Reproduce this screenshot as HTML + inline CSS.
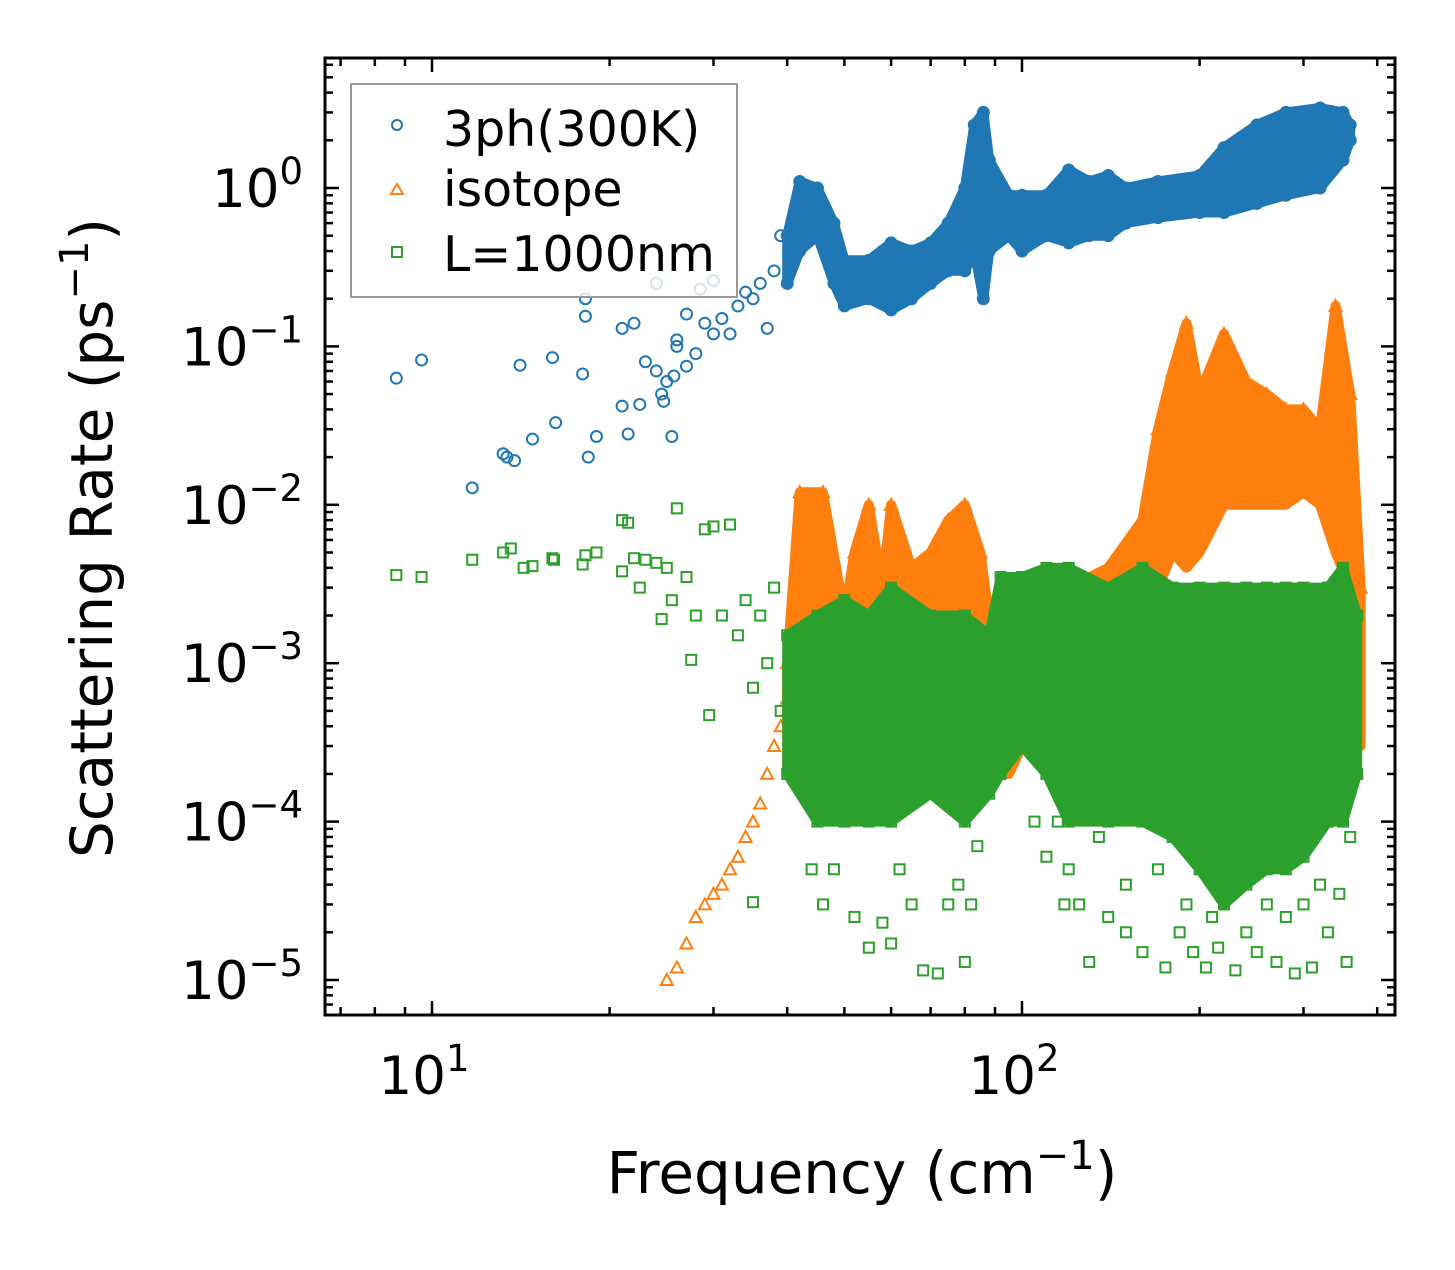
<!DOCTYPE html>
<html><head><meta charset="utf-8"><style>
body{margin:0;background:#fff;}
svg text{font-family:"DejaVu Sans","Liberation Sans",sans-serif;fill:#000;}
</style></head><body>
<svg width="1455" height="1265" viewBox="0 0 1455 1265" xmlns="http://www.w3.org/2000/svg">
<g id="marks"></g>
<g id="axes"></g>
<text x="862" y="1193" font-size="58" text-anchor="middle">Frequency (cm<tspan dy="-24" font-size="40">−1</tspan><tspan dy="24">)</tspan></text>
<text transform="translate(112,538) rotate(-90)" font-size="58" text-anchor="middle">Scattering Rate (ps<tspan dy="-24" font-size="40">−1</tspan><tspan dy="24">)</tspan></text>
<g>
<rect x="351" y="84" width="386" height="213" fill="#fff" fill-opacity="0.8" stroke="#999" stroke-width="2"/>
<circle cx="397" cy="125" r="5" fill="none" stroke="#1f77b4" stroke-width="2"/>
<text x="443" y="146" font-size="49">3ph(300K)</text>
<polygon points="397,184 403,194 391,194" fill="none" stroke="#ff7f0e" stroke-width="2"/>
<text x="443" y="206" font-size="49">isotope</text>
<rect x="392" y="247" width="10" height="10" fill="none" stroke="#2ca02c" stroke-width="2"/>
<text x="443" y="271" font-size="49">L=1000nm</text>
</g>
</svg>
<script>
// ---- data ----
var blueFreq=[8.7,9.6,11.7,13.2,13.4,13.8,14.1,14.8,16,16.2,18,18.2,18.2,18.4,19,21,21,21.5,22,22.5,23,24,24.5,25,25.5,26,27,28,28.5,30,31,32,33,34,35,36,37,38,39,24,26,29,30,27,25.7,24.7];
var blueRate=[0.063,0.082,0.0128,0.021,0.02,0.019,0.076,0.026,0.085,0.033,0.067,0.2,0.155,0.02,0.027,0.13,0.042,0.028,0.14,0.043,0.08,0.07,0.05,0.06,0.027,0.1,0.16,0.09,0.23,0.26,0.15,0.12,0.18,0.22,0.2,0.25,0.13,0.3,0.5,0.25,0.11,0.14,0.12,0.075,0.065,0.045];
var blueBandFreq=[40,42,45,48,50,55,60,65,70,75,80,83,86,88,95,100,110,120,130,140,150,170,200,220,250,280,320,350,360];
var blueBandLo=[0.25,0.4,0.5,0.25,0.18,0.2,0.17,0.2,0.25,0.3,0.3,0.4,0.2,0.4,0.5,0.4,0.5,0.45,0.5,0.5,0.6,0.65,0.7,0.7,0.8,0.9,1.0,1.5,2.0];
var blueBandHi=[0.5,1.1,1.0,0.6,0.35,0.35,0.45,0.4,0.45,0.6,1.0,2.5,3.0,1.5,0.9,0.9,0.9,1.3,1.1,1.2,1.0,1.1,1.2,1.8,2.5,3.0,3.2,3.0,2.5];

var orangeFreq=[25,26,27,28,29,30,31,32,33,34,35,36,37,38,39,40];
var orangeRate=[1e-5,1.2e-5,1.7e-5,2.5e-5,3e-5,3.5e-5,4e-5,5e-5,6e-5,8e-5,1e-4,1.3e-4,2e-4,3e-4,4e-4,6e-4];
var orangeBandFreq=[40,42,46,50,52,55,58,60,65,70,75,80,85,90,95,100,110,120,140,160,170,180,190,200,220,240,260,280,300,320,340,360,375];
var orangeBandLo=[2e-4,4e-4,5e-4,5e-4,3e-4,1e-3,5e-4,5e-4,4e-4,3e-4,3e-4,2e-4,2e-4,2e-4,2e-4,3e-4,3e-4,3e-4,5e-4,1e-3,3e-3,5e-3,4e-3,5e-3,1e-2,1e-2,1e-2,1e-2,1.2e-2,1e-2,5e-3,3e-3,3e-4];
var orangeBandHi=[1e-3,1.2e-2,1.2e-2,2e-3,5e-3,1e-2,3e-3,1e-2,4e-3,5e-3,8e-3,1e-2,5e-3,1e-3,1.5e-3,3e-3,2e-3,3e-3,4e-3,8e-3,3e-2,7e-2,1.4e-1,5e-2,1.2e-1,6e-2,5e-2,4e-2,4e-2,3e-2,1.8e-1,5e-2,3e-3];

var greenFreq=[8.7,9.6,11.7,13.2,13.6,14.3,14.8,16,16.1,18,18.2,19,21,21,21.5,22,22.5,23,24,24.5,25,25.5,26,27,27.5,28,29,29.5,30,31,32,33,34,35,35,36,37,38,39,
44,46,48,52,55,58,60,62,65,68,72,75,78,80,82,84,115,118,125,130,140,150,160,175,185,195,205,215,230,250,270,290,310,330,345,355,360,105,110,120,135,150,170,190,210,240,260,280,300,320];
var greenRate=[3.6e-3,3.5e-3,4.5e-3,5e-3,5.3e-3,4e-3,4.1e-3,4.6e-3,4.5e-3,4.2e-3,4.8e-3,5e-3,8e-3,3.8e-3,7.7e-3,4.6e-3,3e-3,4.5e-3,4.3e-3,1.9e-3,4e-3,2.5e-3,9.5e-3,3.5e-3,1.05e-3,2e-3,7e-3,4.7e-4,7.3e-3,2e-3,7.5e-3,1.5e-3,2.5e-3,3.1e-5,7e-4,2e-3,1e-3,3e-3,5e-4,
5e-5,3e-5,5e-5,2.5e-5,1.6e-5,2.3e-5,1.7e-5,5e-5,3e-5,1.15e-5,1.1e-5,3e-5,4e-5,1.3e-5,3e-5,7e-5,1e-4,3e-5,3e-5,1.3e-5,2.5e-5,2e-5,1.5e-5,1.2e-5,2e-5,1.5e-5,1.2e-5,1.6e-5,1.15e-5,1.5e-5,1.3e-5,1.1e-5,1.2e-5,2e-5,3.5e-5,1.3e-5,8e-5,1e-4,6e-5,5e-5,8e-5,4e-5,5e-5,3e-5,2.5e-5,2e-5,3e-5,2.5e-5,3e-5,4e-5];
var greenBandFreq=[40,45,50,55,60,70,80,88,92,100,110,120,140,160,180,200,220,240,260,280,300,330,350,370];
var greenBandLo=[2e-4,1e-4,1e-4,1e-4,1e-4,1.5e-4,1e-4,1.5e-4,2e-4,3e-4,2e-4,1e-4,1e-4,1e-4,8e-5,5e-5,3e-5,4e-5,5e-5,5e-5,6e-5,1e-4,1e-4,2e-4];
var greenBandHi=[1.5e-3,2e-3,2.5e-3,2e-3,3e-3,2e-3,2e-3,1.5e-3,3.5e-3,3.5e-3,4e-3,4e-3,3e-3,4e-3,3e-3,3e-3,3e-3,3e-3,3e-3,3e-3,3e-3,3e-3,4e-3,2e-3];

var xTickVals=[10,100];
var xTickExp=["1","2"];
var yTickVals=[1,0.1,0.01,0.001,1e-4,1e-5];
var yTickExp=["0","−1","−2","−3","−4","−5"];

// ---- axes ----
var L=325,R=1395,T=58,B=1015;
function X(f){return 432+590*(Math.log10(f)-1);}
function Y(r){return 188-158.4*Math.log10(r);}
var NS="http://www.w3.org/2000/svg";
var marks=document.getElementById('marks'),axes=document.getElementById('axes');
function mk(tag,at,parent){var e=document.createElementNS(NS,tag);for(var k in at)e.setAttribute(k,at[k]);parent.appendChild(e);return e;}

function band(fs,lo,hi,col,name){
  var d='M'+fs.map(function(f,i){return X(f).toFixed(1)+','+Y(hi[i]).toFixed(1);}).join('L');
  for(var i=fs.length-1;i>=0;i--)d+='L'+X(fs[i]).toFixed(1)+','+Y(lo[i]).toFixed(1);
  var p=mk('path',{d:d+'Z',fill:col,stroke:col,'stroke-width':10,'stroke-linejoin':'round'},marks);
  
  
}
function pts(fs,rs,shape,col,name){
  fs.forEach(function(f,i){
    var x=X(f),y=Y(rs[i]),e;
    if(shape==='c')e=mk('circle',{cx:x,cy:y,r:5.5,fill:'none',stroke:col,'stroke-width':2},marks);
    else if(shape==='t')e=mk('polygon',{points:x+','+(y-6)+' '+(x+6)+','+(y+5)+' '+(x-6)+','+(y+5),fill:'none',stroke:col,'stroke-width':2},marks);
    else e=mk('rect',{x:x-5,y:y-5,width:10,height:10,fill:'none',stroke:col,'stroke-width':2},marks);
    
    
  });
}
band(blueBandFreq,blueBandLo,blueBandHi,'#1f77b4','band-3ph');
pts(blueFreq,blueRate,'c','#1f77b4','point-3ph');
pts(blueBandFreq,blueBandHi,'c','#1f77b4','point-3ph');
pts(blueBandFreq,blueBandLo,'c','#1f77b4','point-3ph');
band(orangeBandFreq,orangeBandLo,orangeBandHi,'#ff7f0e','band-isotope');
pts(orangeFreq,orangeRate,'t','#ff7f0e','point-isotope');
pts(orangeBandFreq,orangeBandHi,'t','#ff7f0e','point-isotope');
band(greenBandFreq,greenBandLo,greenBandHi,'#2ca02c','band-boundary');
pts(greenFreq,greenRate,'s','#2ca02c','point-boundary');
pts(greenBandFreq,greenBandLo,'s','#2ca02c','point-boundary');
pts(greenBandFreq,greenBandHi,'s','#2ca02c','point-boundary');

var fr=mk('rect',{x:L,y:T,width:R-L,height:B-T,fill:'none',stroke:'#000','stroke-width':3},axes);


function tick(x1,y1,x2,y2){var t=mk('line',{x1:x1,y1:y1,x2:x2,y2:y2,stroke:'#000','stroke-width':2.5},axes);

}
[1,10,100].forEach(function(dec){for(var m=1;m<10;m++){var f=dec*m,x=X(f);if(x<L||x>R)continue;var len=m===1?14:8;tick(x,B,x,B-len);tick(x,T,x,T+len);}});
[1e-6,1e-5,1e-4,1e-3,1e-2,0.1,1].forEach(function(dec){for(var m=1;m<10;m++){var r=dec*m,y=Y(r);if(y<T||y>B)continue;var len=m===1?14:8;tick(L,y,L+len,y);tick(R,y,R-len,y);}});
xTickVals.forEach(function(v,i){
  var t=mk('text',{x:X(v)-8,y:1094,'font-size':53,'text-anchor':'middle'},axes);
  var s=mk('tspan',{},t); s.textContent='10';
  var e=mk('tspan',{dy:-23,'font-size':37},t); e.textContent=xTickExp[i];
  
  
});
yTickVals.forEach(function(v,i){
  var t=mk('text',{x:303,y:Y(v)+19,'font-size':53,'text-anchor':'end'},axes);
  var s=mk('tspan',{},t); s.textContent='10';
  var e=mk('tspan',{dy:-23,'font-size':37},t); e.textContent=yTickExp[i];
  
  
});
</script>
</body></html>
